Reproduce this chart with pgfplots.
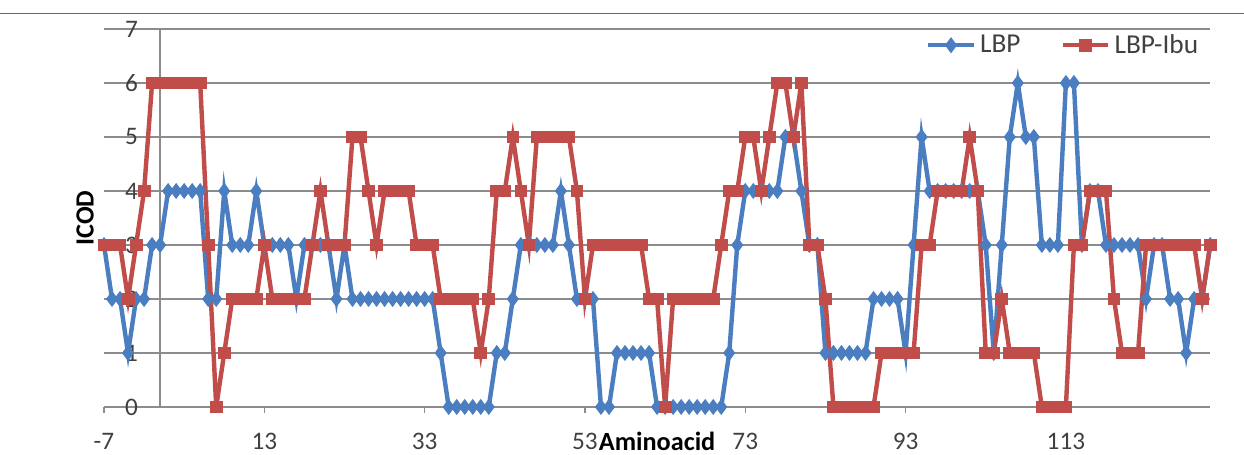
\documentclass[border=0pt]{standalone}
\usepackage{fontspec}
\setmainfont{Carlito}
\usepackage{pgfplots}
\pgfplotsset{compat=1.18}
\usepackage{pgfplotstable}

\definecolor{lbp}{RGB}{74,126,193}
\definecolor{ibu}{RGB}{192,77,74}
\definecolor{gridc}{RGB}{140,140,140}

% ICOD per amino acid position
\pgfplotstableread{
x lbp ibu
-7 3 3
-6 2 3
-5 2 3
-4 1 2
-3 2 3
-2 2 4
-1 3 6
0 3 6
1 4 6
2 4 6
3 4 6
4 4 6
5 4 6
6 2 3
7 2 0
8 4 1
9 3 2
10 3 2
11 3 2
12 4 2
13 3 3
14 3 2
15 3 2
16 3 2
17 2 2
18 3 2
19 3 3
20 3 4
21 3 3
22 2 3
23 3 3
24 2 5
25 2 5
26 2 4
27 2 3
28 2 4
29 2 4
30 2 4
31 2 4
32 2 3
33 2 3
34 2 3
35 1 2
36 0 2
37 0 2
38 0 2
39 0 2
40 0 1
41 0 2
42 1 4
43 1 4
44 2 5
45 3 4
46 3 3
47 3 5
48 3 5
49 3 5
50 4 5
51 3 5
52 2 4
53 2 2
54 2 3
55 0 3
56 0 3
57 1 3
58 1 3
59 1 3
60 1 3
61 1 2
62 0 2
63 0 0
64 0 2
65 0 2
66 0 2
67 0 2
68 0 2
69 0 2
70 0 3
71 1 4
72 3 4
73 4 5
74 4 5
75 4 4
76 4 5
77 4 6
78 5 6
79 5 5
80 4 6
81 3 3
82 3 3
83 1 2
84 1 0
85 1 0
86 1 0
87 1 0
88 1 0
89 2 0
90 2 1
91 2 1
92 2 1
93 1 1
94 3 1
95 5 3
96 4 3
97 4 4
98 4 4
99 4 4
100 4 4
101 4 5
102 4 4
103 3 1
104 1 1
105 3 2
106 5 1
107 6 1
108 5 1
109 5 1
110 3 0
111 3 0
112 3 0
113 6 0
114 6 3
115 3 3
116 4 4
117 4 4
118 3 4
119 3 2
120 3 1
121 3 1
122 3 1
123 2 3
124 3 3
125 3 3
126 2 3
127 2 3
128 1 3
129 2 3
130 2 2
131 3 3
}\icod

\begin{document}
\begin{tikzpicture}
\useasboundingbox (-49.5pt,-22.85pt) rectangle (542.6pt,193.7pt);
\draw[black!60, line width=0.8pt] (-49.5pt,187.3pt) -- (542.6pt,187.3pt);
\begin{axis}[
  at={(0,0)}, anchor=south west,
  scale only axis, width=526.5pt, height=179.9pt,
  xmin=-7, xmax=131, ymin=0, ymax=7,
  clip=false,
  xtick={-7,13,33,53,73,93,113},
  ytick={0,...,7},
  axis line style={draw=none},
  ymajorgrids, grid style={gridc, line width=0.7pt},
  extra x ticks={0}, extra x tick labels={},
  extra x tick style={grid=major, major tick length=0pt},
  tick align=outside, major tick length=3pt,
  xtick pos=bottom,
  xtick style={gridc, line width=0.7pt},
  ytick style={draw=none},
  /pgf/number format/assume math mode=true,
  tick label style={font=\fontsize{12}{14}\selectfont, text=black!75},
  xticklabel style={yshift=-6pt},
  yticklabel style={xshift=22.7pt},
  xlabel={\textbf{Aminoacid}},
  ylabel={\textbf{ICOD}},
  every axis x label/.style={at={([yshift=-16.3pt]axis description cs:0.5,0)}, anchor=center, font=\fontsize{12.5}{14}\selectfont},
  every axis y label/.style={at={([xshift=-9pt]axis description cs:0,0.5)}, rotate=90, anchor=center, font=\fontsize{12.5}{14}\selectfont},
  legend style={at={(0.999,0.957)}, anchor=east, draw=none, fill=none,
    font=\fontsize{13}{15}\selectfont, text=black!75,
    /tikz/every even column/.append style={column sep=17pt}},
  legend columns=2,
  legend image code/.code={\draw[mark repeat=2,mark phase=2] plot coordinates {(0cm,0cm)(0.38cm,0cm)(0.76cm,0cm)};},
]
\addplot[lbp, line width=2.1pt, mark=diamond*, mark size=3.5pt, mark options={solid, line width=0.4pt}] table[x=x, y=lbp] {\icod};
\addlegendentry{LBP}
\addplot[ibu, line width=2.1pt, mark=square*, mark size=2.8pt, mark options={solid, line width=0.4pt}] table[x=x, y=ibu] {\icod};
\addlegendentry{LBP-Ibu}
\end{axis}
\end{tikzpicture}
\end{document}
